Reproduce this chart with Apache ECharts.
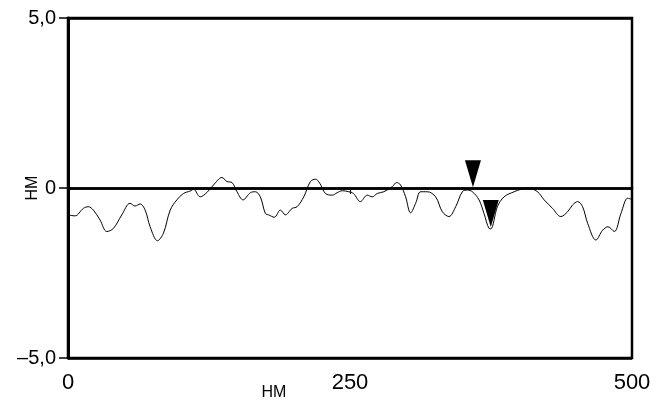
<!DOCTYPE html>
<html>
<head>
<meta charset="utf-8">
<script src="https://cdn.jsdelivr.net/npm/echarts@6/dist/echarts.min.js"></script>
<style>
  html, body { margin: 0; padding: 0; background: #fff; }
  #chart { width: 659px; height: 402px; }
</style>
</head>
<body>
<div id="chart"></div>
<script>
// profile position, nm
const positionNm = [
  0, 6.2, 13.6, 18, 22.5, 28.4, 34.4, 40.2, 47.7, 55, 59.5, 63.9, 68.4, 72.8, 79.3, 84.6,
  90.6, 96.5, 102.4, 108.3, 111.3, 117.2, 123.2, 129, 136.5, 140.9, 145.4, 149.8, 155.2,
  161.6, 166.1, 170.5, 175, 177.9, 182.9, 188.3, 192.7, 198.7, 203.1, 209, 214.9, 219.4,
  223.2, 228.2, 234.2, 238.6, 243.1, 248.9, 253, 259.3, 265.3, 269.7, 274.2, 280, 287.5,
  291.3, 294.8, 299.3, 303.7, 308.2, 312.6, 318.6, 325.9, 331.9, 337.7, 343.7, 349.6,
  354.1, 358.5, 364.4, 368.8, 373.3, 374.8, 380.7, 386.6, 395.5, 401.4, 407.4, 416.2,
  422.1, 429.6, 436.9, 442.9, 447.3, 451.8, 456.2, 460.7, 468, 474, 478.7, 484.3, 490.2,
  496.2, 499.1
];
// height, nm
const heightNm = [
  -0.79, -0.82, -0.6, -0.55, -0.65, -0.94, -1.28, -1.19, -0.79, -0.45, -0.53, -0.47, -0.65, -1.14, -1.55, -1.33,
  -0.65, -0.35, -0.16, -0.09, -0.04, -0.26, -0.13, 0.09, 0.31, 0.19, 0.16, -0.11, -0.35,
  -0.14, -0.11, -0.26, -0.75, -0.79, -0.86, -0.65, -0.79, -0.6, -0.55, -0.26, 0.19, 0.26,
  0.14, -0.16, -0.21, -0.14, -0.08, -0.11, -0.16, -0.4, -0.21, -0.26, -0.16, -0.11, 0.04,
  0.16, 0.09, -0.26, -0.73, -0.45, -0.11, -0.11, -0.26, -0.7, -0.84, -0.55, -0.11,
  -0.06, -0.11, -0.35, -0.75, -1.19, -1.2, -0.55, -0.26, -0.11, -0.04, 0, -0.11,
  -0.35, -0.6, -0.84, -0.7, -0.5, -0.4, -0.55, -1.04, -1.53, -1.24, -1.14, -1.28, -0.75,
  -0.3, -0.33
];
// cursor markers
const markerX = [359, 374.8];
const markerY = [0.02, -1.15];

const xTicks = [0, 250, 500];
const yTicks = [-5, 0, 5];

const chart = echarts.init(document.getElementById('chart'));

const fmtY = (v) => {
  if (v === 0) return '0';
  return (v < 0 ? '\u2013' : '') + Math.abs(v).toFixed(1).replace('.', ',');
};

const labelFont = "'Liberation Sans', Arial, sans-serif";

const option = {
  animation: false,
  backgroundColor: '#fff',
  grid: {
    left: 68,
    right: 27,
    top: 18,
    bottom: 44,
    containLabel: false,
    outerBoundsMode: 'none',
    show: true,
    borderColor: '#000',
    borderWidth: 2.5
  },
  xAxis: {
    type: 'value',
    min: xTicks[0],
    max: xTicks[xTicks.length - 1],
    interval: xTicks[1] - xTicks[0],
    name: 'НМ',
    nameLocation: 'middle',
    nameGap: 27,
    nameMoveOverlap: false,
    nameTextStyle: {
      color: '#000',
      fontSize: 16,
      fontFamily: labelFont,
      padding: [0, 152, 0, 0]
    },
    axisLine: { show: true, lineStyle: { color: '#000', width: 2.5 } },
    axisTick: { show: true, inside: false, length: 6, lineStyle: { color: '#000', width: 1 } },
    axisLabel: { color: '#000', fontSize: 22, fontFamily: labelFont, margin: 14 },
    splitLine: { show: false }
  },
  yAxis: {
    type: 'value',
    min: yTicks[0],
    max: yTicks[yTicks.length - 1],
    interval: yTicks[1] - yTicks[0],
    name: 'НМ',
    nameLocation: 'middle',
    nameGap: 27,
    nameMoveOverlap: false,
    nameTextStyle: {
      color: '#000',
      fontSize: 16,
      fontFamily: labelFont
    },
    axisLine: { show: true, lineStyle: { color: '#000', width: 3 } },
    axisTick: { show: true, inside: false, length: 9, lineStyle: { color: '#000', width: 1.5 } },
    axisLabel: { color: '#000', fontSize: 20, fontFamily: labelFont, margin: 12, formatter: fmtY },
    splitLine: { show: true, lineStyle: { color: '#000', width: 2.5 } }
  },
  series: [
    {
      name: 'profile',
      type: 'line',
      data: positionNm.map((x, i) => [x, heightNm[i]]),
      showSymbol: false,
      smooth: 0.35,
      lineStyle: { color: '#000', width: 1 },
      z: 3
    },
    {
      name: 'markers',
      type: 'scatter',
      data: markerX.map((x, i) => [x, markerY[i]]),
      symbol: 'path://M0,0L2,0L1,3Z',
      symbolSize: [16, 27],
      symbolOffset: [0, '-50%'],
      itemStyle: { color: '#000', opacity: 1 },
      z: 4
    }
  ]
};

chart.setOption(option);
</script>
</body>
</html>
